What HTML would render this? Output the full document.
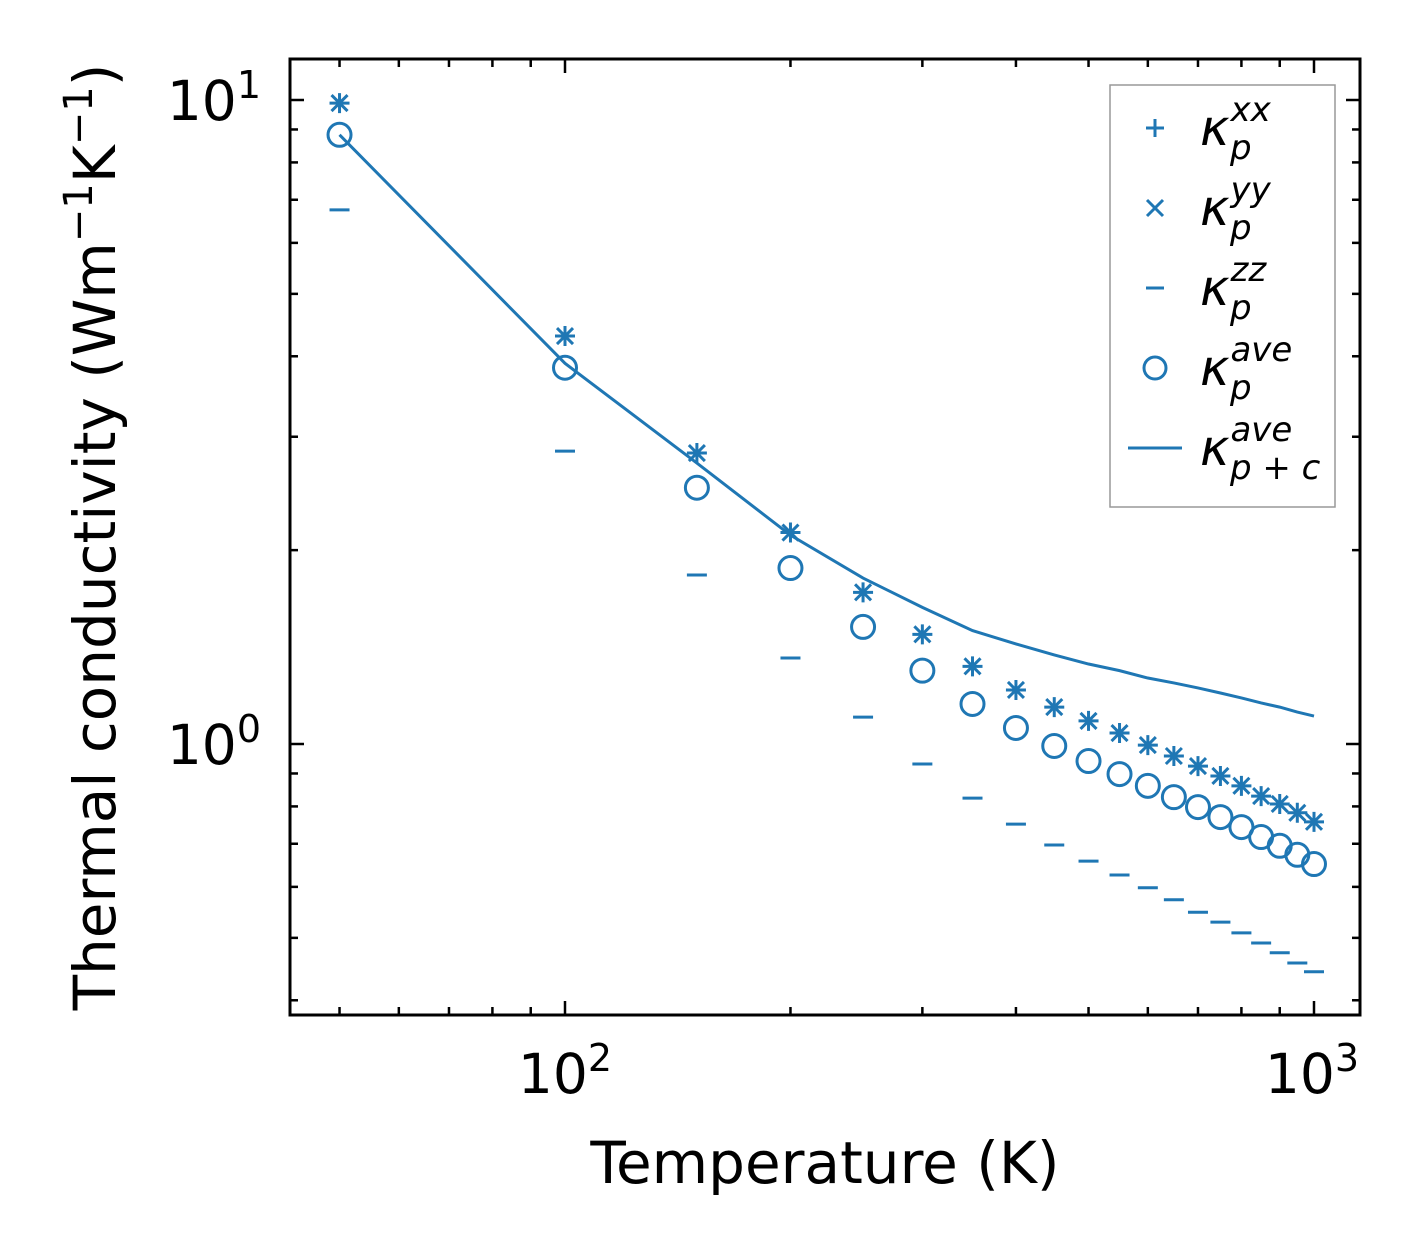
<!DOCTYPE html>
<html><head><meta charset="utf-8"><style>
html,body{margin:0;padding:0;background:#fff}
svg{display:block;font-family:"DejaVu Sans","Liberation Sans",sans-serif}
</style></head><body>
<svg id="chart" width="1421" height="1254" viewBox="0 0 1421 1254" xmlns="http://www.w3.org/2000/svg">
<g id="plot"></g>
<rect x="290" y="59" width="1070" height="956" fill="none" stroke="#000" stroke-width="3"/>
<text x="565" y="1093" font-size="55" text-anchor="middle">10<tspan dy="-22" font-size="38">2</tspan></text>
<text x="1312" y="1093" font-size="55" text-anchor="middle">10<tspan dy="-22" font-size="38">3</tspan></text>
<text x="261" y="120" font-size="55" text-anchor="end">10<tspan dy="-22" font-size="38">1</tspan></text>
<text x="261" y="764" font-size="55" text-anchor="end">10<tspan dy="-22" font-size="38">0</tspan></text>
<text x="825" y="1183" font-size="58" text-anchor="middle">Temperature (K)</text>
<text transform="translate(115,537) rotate(-90)" font-size="58" text-anchor="middle">Thermal conductivity (Wm<tspan dy="-23" font-size="40">−1</tspan><tspan dy="23">K</tspan><tspan dy="-23" font-size="40">−1</tspan><tspan dy="23">)</tspan></text>
<g id="legend">
<rect x="1110" y="85" width="225" height="422" fill="#fff" stroke="#999" stroke-width="1.5"/>
</g>
</svg>
<script>
const temps=[50,100,150,200,250,300,350,400,450,500,550,600,650,700,750,800,850,900,950,1000];
const kxx=[9.89,4.30,2.83,2.13,1.72,1.48,1.32,1.213,1.141,1.086,1.040,0.996,0.958,0.924,0.892,0.861,0.830,0.807,0.782,0.757];
const kyy=[9.89,4.30,2.83,2.13,1.72,1.48,1.32,1.213,1.141,1.086,1.040,0.996,0.958,0.924,0.892,0.861,0.830,0.807,0.782,0.757];
const kzz=[6.75,2.85,1.83,1.36,1.101,0.931,0.824,0.751,0.697,0.658,0.626,0.598,0.573,0.548,0.529,0.509,0.491,0.474,0.457,0.443];
const kave=[8.83,3.84,2.50,1.876,1.52,1.30,1.154,1.059,0.993,0.941,0.898,0.861,0.827,0.798,0.770,0.743,0.717,0.695,0.673,0.651];
const kpc=[8.83,3.90,2.73,2.11,1.81,1.63,1.50,1.43,1.375,1.331,1.30,1.266,1.244,1.222,1.200,1.179,1.158,1.141,1.121,1.105];
const xMajor=[100,1000];
const xMinor=[50,60,70,80,90,200,300,400,500,600,700,800,900];
const yMajor=[1,10];
const yMinor=[0.4,0.5,0.6,0.7,0.8,0.9,2,3,4,5,6,7,8,9];

const NS="http://www.w3.org/2000/svg";
const C="#1f77b4";
const X=v=>565+749*(Math.log10(v)-2);
const Y=v=>744-644*Math.log10(v);
const plot=document.getElementById('plot');
const svg=document.getElementById('chart');
function el(tag,attrs,parent){const e=document.createElementNS(NS,tag);for(const k in attrs)e.setAttribute(k,attrs[k]);(parent||plot).appendChild(e);return e;}

xMajor.concat(xMinor).forEach(v=>{
  const L=xMajor.includes(v)?14:8;const x=X(v);
  const t1=el('line',{x1:x,x2:x,y1:1015,y2:1015-L,stroke:'#000','stroke-width':2.5},svg);
  
  
  const t2=el('line',{x1:x,x2:x,y1:59,y2:59+L,stroke:'#000','stroke-width':2.5},svg);
  
  
});
yMajor.concat(yMinor).forEach(v=>{
  const L=yMajor.includes(v)?14:8;const y=Y(v);
  const t1=el('line',{x1:290,x2:290+L,y1:y,y2:y,stroke:'#000','stroke-width':2.5},svg);
  
  
  const t2=el('line',{x1:1360,x2:1360-L,y1:y,y2:y,stroke:'#000','stroke-width':2.5},svg);
  
  
});

function plus(x,y,s,p){return el('path',{d:`M${x-s} ${y}H${x+s}M${x} ${y-s}V${y+s}`,stroke:C,'stroke-width':3,fill:'none'},p);}
function cross(x,y,s,p){return el('path',{d:`M${x-s} ${y-s}L${x+s} ${y+s}M${x-s} ${y+s}L${x+s} ${y-s}`,stroke:C,'stroke-width':3,fill:'none'},p);}
function dash(x,y,s,p){return el('path',{d:`M${x-s} ${y}H${x+s}`,stroke:C,'stroke-width':3,fill:'none'},p);}
function circ(x,y,r,p){return el('circle',{cx:x,cy:y,r:r,stroke:C,'stroke-width':3,fill:'none'},p);}

let d='';temps.forEach((t,i)=>{d+=(i?'L':'M')+X(t)+' '+Y(kpc[i]);});
const ln=el('path',{d:d,stroke:C,'stroke-width':3,fill:'none'});


temps.forEach((t,i)=>{
  const a=plus(X(t),Y(kxx[i]),10);
  
  
  const b=cross(X(t),Y(kyy[i]),8);
  
  
  const c=dash(X(t),Y(kzz[i]),10);
  
  
  const e=circ(X(t),Y(kave[i]),11.5);
  
  
});

const lg=document.getElementById('legend');
const sups=['xx','yy','zz','ave','ave'];const subs=['p','p','p','p','p + c'];
sups.forEach((s,i)=>{
  const y=128+80*i;
  let m;
  if(i==0)m=plus(1155,y,9,lg);else if(i==1)m=cross(1155,y,8,lg);else if(i==2)m=dash(1155,y,9,lg);else if(i==3)m=circ(1155,y,11,lg);else m=el('path',{d:`M1128 ${y}H1182`,stroke:C,'stroke-width':3},lg);
  
  
  const t=el('text',{x:1200,y:y+17,'font-size':50,'font-style':'italic'},lg);
  
  
  t.innerHTML=`κ<tspan font-size="34" dx="1" dy="-24">${s}</tspan><tspan font-size="34" x="1230" dy="38">${subs[i]}</tspan>`;
});
</script>
</body></html>
